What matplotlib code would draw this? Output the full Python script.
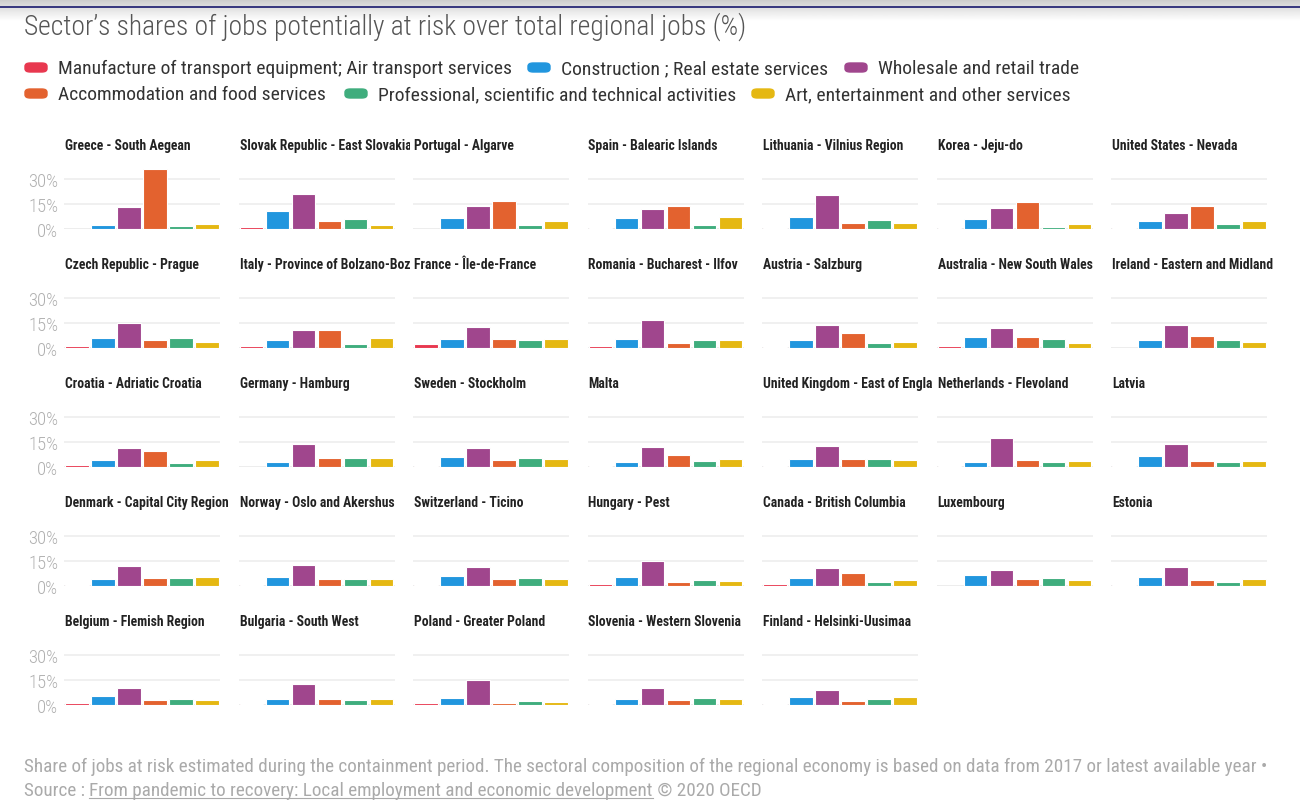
import numpy as np
import matplotlib
matplotlib.use("Agg")
import matplotlib.pyplot as plt
from matplotlib.patches import FancyBboxPatch
from matplotlib.transforms import Bbox, TransformedBbox

plt.rcParams['font.family'] = ['Roboto Condensed', 'Barlow Condensed', 'DejaVu Sans']

# data (% of total regional jobs)
regions = [
    "Greece - South Aegean", "Slovak Republic - East Slovakia", "Portugal - Algarve",
    "Spain - Balearic Islands", "Lithuania - Vilnius Region", "Korea - Jeju-do",
    "United States - Nevada",
    "Czech Republic - Prague", "Italy - Province of Bolzano-Bozen", "France - Île-de-France",
    "Romania - Bucharest - Ilfov", "Austria - Salzburg", "Australia - New South Wales",
    "Ireland - Eastern and Midland",
    "Croatia - Adriatic Croatia", "Germany - Hamburg", "Sweden - Stockholm", "Malta",
    "United Kingdom - East of England", "Netherlands - Flevoland", "Latvia",
    "Denmark - Capital City Region", "Norway - Oslo and Akershus", "Switzerland - Ticino",
    "Hungary - Pest", "Canada - British Columbia", "Luxembourg", "Estonia",
    "Belgium - Flemish Region", "Bulgaria - South West", "Poland - Greater Poland",
    "Slovenia - Western Slovenia", "Finland - Helsinki-Uusimaa",
]
transport = [0.0, 1.4, 0.0, 0.8, 0.5, 0.3, 0.8,
             1.0, 1.0, 2.2, 1.0, 0.4, 1.0, 0.2,
             1.0, 0.0, 0.6, 0.8, 0.8, 0.6, 0.8,
             0.4, 0.8, 0.4, 1.0, 1.0, 0.0, 0.4,
             1.0, 0.4, 1.2, 0.8, 0.8]
construction = [2.6, 10.7, 6.3, 6.7, 6.9, 5.7, 4.9,
                6.1, 4.9, 5.5, 5.5, 4.9, 6.7, 4.7,
                4.3, 3.0, 5.9, 3.2, 4.5, 3.0, 6.7,
                3.9, 5.3, 5.7, 5.1, 4.5, 6.3, 5.5,
                5.3, 3.7, 4.3, 3.7, 4.7]
wholesale = [13.0, 20.7, 14.0, 11.8, 20.3, 12.4, 9.3,
             15.0, 11.0, 12.6, 16.6, 13.6, 12.0, 13.6,
             11.6, 13.6, 11.4, 12.2, 12.8, 17.2, 13.6,
             11.8, 12.4, 11.2, 15.2, 10.5, 9.5, 11.4,
             10.3, 12.4, 15.2, 10.1, 9.1]
accommodation = [35.9, 4.7, 17.0, 13.8, 3.7, 16.2, 13.8,
                 4.9, 10.8, 5.1, 3.2, 8.9, 6.3, 7.1,
                 9.7, 5.1, 4.3, 6.9, 4.9, 3.9, 3.4,
                 4.9, 4.1, 4.1, 2.2, 7.5, 3.9, 3.4,
                 3.0, 3.4, 1.0, 3.2, 2.6]
professional = [1.8, 5.7, 2.2, 2.4, 5.1, 1.4, 3.0,
                6.1, 2.2, 4.9, 4.7, 2.8, 5.3, 4.7,
                2.2, 5.1, 5.5, 3.7, 4.7, 3.2, 2.8,
                4.5, 4.1, 4.7, 3.4, 2.6, 4.9, 2.6,
                3.7, 3.0, 2.6, 4.1, 3.4]
art = [3.2, 2.6, 4.5, 7.1, 3.4, 3.2, 4.7,
       3.7, 6.1, 5.3, 4.5, 3.7, 3.0, 3.4,
       4.1, 5.1, 4.7, 4.9, 4.3, 3.7, 3.7,
       5.5, 4.1, 4.1, 2.8, 3.4, 3.4, 4.1,
       3.2, 3.4, 1.8, 3.7, 4.9]

sectors = ["Manufacture of transport equipment; Air transport services",
           "Construction ; Real estate services",
           "Wholesale and retail trade",
           "Accommodation and food services",
           "Professional, scientific and technical activities",
           "Art, entertainment and other services"]
colors = ['#E8384F', '#2196DE', '#A0468D', '#E3622F', '#3FAD7D', '#E5B812']
yticks = [0, 15, 30]
ytick_labels = ["0%", "15%", "30%"]

W, H = 1300, 812
fig = plt.figure(figsize=(13, 8.12), dpi=100)


def fx(x):
    return x / W


def fy(y):
    return 1 - y / H


# top header shade and line
hdr = fig.add_axes([0, fy(22), 1, 22 / H])
hdr.imshow(np.linspace(0.80, 1.0, 50).reshape(-1, 1), cmap='gray', vmin=0, vmax=1,
           aspect='auto', extent=[0, 1, 0, 1])
hdr.plot([0, 1], [0.64, 0.64], color='#1a1a6e', lw=1.2)
hdr.set_xlim(0, 1)
hdr.set_ylim(0, 1)
hdr.axis('off')

fig.text(fx(24), fy(27), "Sector’s shares of jobs potentially at risk over total regional jobs (%)",
         fontsize=19.8, fontweight='light', color='#555555', va='center', ha='left')

# legend
leg_items = [(25, 69, 0), (528, 69, 1), (845, 69, 2),
             (25, 95, 3), (345, 95, 4), (752, 95, 5)]
for lx, ly, k in leg_items:
    fig.patches.append(FancyBboxPatch((fx(lx), fy(ly + 4)), fx(22), 9 / H,
                                      boxstyle="round,pad=0,rounding_size=0.004",
                                      transform=fig.transFigure, color=colors[k]))
    fig.text(fx(lx + 33), fy(ly), sectors[k], fontsize=14, color='#333333', va='center')

values = np.array([transport, construction, wholesale, accommodation, professional, art]).T
x = np.arange(6)
for i, name in enumerate(regions):
    r, c = divmod(i, 7)
    left = 64 + c * 174.5
    base = 230 + r * 119
    ax = fig.add_axes([fx(left), fy(base), fx(156), 62 / H])
    ax.bar(x, values[i], width=0.9, color=colors, edgecolor='white', linewidth=0.8, zorder=3)
    ax.set_xlim(-0.5, 5.5)
    ax.set_ylim(0, 37)
    ax.set_yticks(yticks)
    ax.grid(axis='y', color='#eeeeee', lw=1.2, zorder=0)
    ax.axhline(0, color='#e6e6e6', lw=1.4, zorder=1)
    ax.set_xticks([])
    for s in ax.spines.values():
        s.set_visible(False)
    ax.tick_params(length=0, pad=4)
    if c == 0:
        ax.set_yticklabels(ytick_labels, fontsize=13.5, color='#b0b0b0', fontweight='light')
    else:
        ax.set_yticklabels([])
    t = fig.text(fx(left + 1), fy(146 + r * 119), name, fontsize=9.8, fontweight='bold',
                 color='#222222', va='center', ha='left')
    clip = Bbox.from_extents(fx(left - 2), fy(160 + r * 119), fx(left + 171), fy(130 + r * 119))
    t.set_clip_box(TransformedBbox(clip, fig.transFigure))
    t.set_clip_on(True)

# footer
fig.text(fx(24), fy(767), "Share of jobs at risk estimated during the containment period. "
         "The sectoral composition of the regional economy is based on data from 2017 or latest available year •",
         fontsize=13.8, color='#aaaaaa', va='center')
src = fig.text(fx(24), fy(791), "Source : ", fontsize=13.8, color='#aaaaaa', va='center')
fig.canvas.draw()
rend = fig.canvas.get_renderer()
bb = src.get_window_extent(rend)
link = fig.text(bb.x1 / W, fy(791), "From pandemic to recovery: Local employment and economic development",
                fontsize=13.8, color='#aaaaaa', va='center')
bb2 = link.get_window_extent(rend)
fig.add_artist(plt.Line2D([bb2.x0 / W, bb2.x1 / W], [bb2.y0 / H + 0.001, bb2.y0 / H + 0.001],
                          color='#aaaaaa', lw=0.8, transform=fig.transFigure))
fig.text(bb2.x1 / W, fy(791), " © 2020 OECD", fontsize=13.8, color='#aaaaaa', va='center')

fig.savefig("out.png", dpi=100)
